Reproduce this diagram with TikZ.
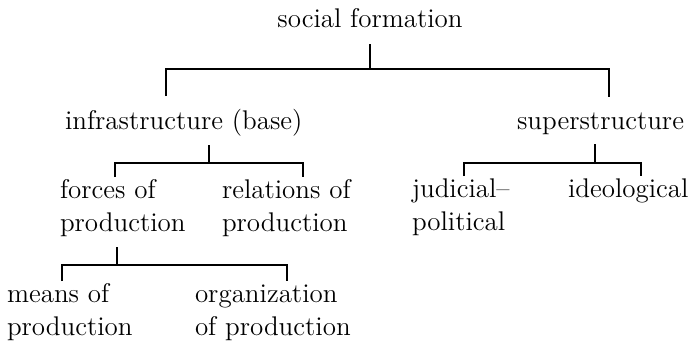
\documentclass[tikz,border=0pt]{standalone}
\usepackage{tikz}
\usetikzlibrary{positioning}

\begin{document}
\begin{tikzpicture}[
    x=0.5pt, y=-0.5pt,
    term/.style={inner sep=0pt, outer sep=0pt, align=left,
                 font=\fontsize{13.5}{16.5}\selectfont},
    branch/.style={line width=0.7pt}
]

\useasboundingbox (0,0) rectangle (700,348);

% Top level
\node[term, anchor=base] (social) at (370,27) {social formation};

% Second level
\node[term, anchor=base west] (infra) at (65,129) {infrastructure (base)};
\node[term, anchor=base west] (super) at (517,129) {superstructure};

% Third level (base = last line)
\node[term, anchor=base west] (forces) at (60,231) {forces of\\production};
\node[term, anchor=base west] (relations) at (222,231) {relations of\\production};
\node[term, anchor=base west] (judicial) at (412,230) {judicial--\\political};
\node[term, anchor=base west] (ideo) at (568,197) {ideological};

% Fourth level
\node[term, anchor=base west] (means) at (7,335) {means of\\production};
\node[term, anchor=base west] (organization) at (195,335) {organization\\of production};

% Bracket points: stem top, junction, tick ends
\coordinate (socialstem) at (370,44);
\coordinate (socialjoin) at (370,69);
\coordinate (infratick)  at (166,96);
\coordinate (supertick)  at (609,97);

\coordinate (infrastem)  at (209,145);
\coordinate (infrajoin)  at (209,163);
\coordinate (forcestick) at (115,177);
\coordinate (relationstick) at (303,177);

\coordinate (forcesstem) at (117,247);
\coordinate (forcesjoin) at (117,265);
\coordinate (meanstick)  at (62,281);
\coordinate (orgtick)    at (287,281);

\coordinate (superstem)  at (595,144);
\coordinate (superjoin)  at (595,163);
\coordinate (judicialtick) at (464,176);
\coordinate (ideotick)   at (641,176);

% Brackets
\draw[branch] (socialstem) -- (socialjoin);
\draw[branch] (infratick) |- (socialjoin) -| (supertick);

\draw[branch] (infrastem) -- (infrajoin);
\draw[branch] (forcestick) |- (infrajoin) -| (relationstick);

\draw[branch] (forcesstem) -- (forcesjoin);
\draw[branch] (meanstick) |- (forcesjoin) -| (orgtick);

\draw[branch] (superstem) -- (superjoin);
\draw[branch] (judicialtick) |- (superjoin) -| (ideotick);

\end{tikzpicture}
\end{document}
